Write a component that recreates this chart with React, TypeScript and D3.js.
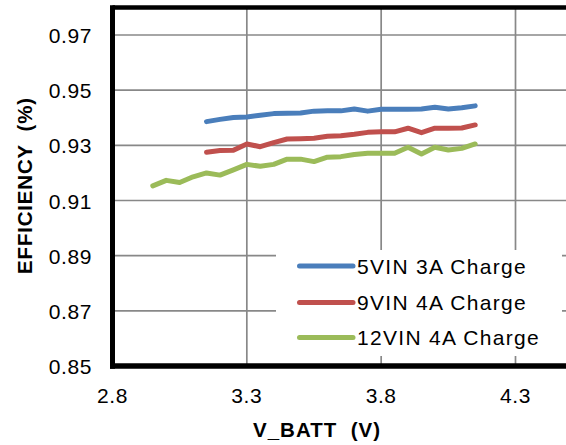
import React from "react";
import * as d3 from "d3";

const xTicks = [2.8, 3.3, 3.8, 4.3];
const yTicks = [0.85, 0.87, 0.89, 0.91, 0.93, 0.95, 0.97];

const vbattShort = [3.15, 3.2, 3.25, 3.3, 3.35, 3.4, 3.45, 3.5, 3.55, 3.6, 3.65, 3.7, 3.75, 3.8, 3.85, 3.9, 3.95, 4.0, 4.05, 4.1, 4.15];
const vbattLong = [2.95, 3.0, 3.05, 3.1, ...vbattShort];

const eff5V = [0.9386, 0.9394, 0.9401, 0.9403, 0.9409, 0.9415, 0.9416, 0.9417, 0.9424, 0.9425, 0.9425, 0.9432, 0.9424, 0.9431, 0.9431, 0.9431, 0.9432, 0.9438, 0.9432, 0.9436, 0.9443];
const eff9V = [0.9275, 0.9281, 0.9282, 0.9305, 0.9295, 0.931, 0.9323, 0.9324, 0.9326, 0.9333, 0.9335, 0.934, 0.9347, 0.9349, 0.9349, 0.9362, 0.9346, 0.9362, 0.9362, 0.9363, 0.9374];
const eff12V = [0.9153, 0.9173, 0.9165, 0.9186, 0.92, 0.9192, 0.9211, 0.9231, 0.9224, 0.9231, 0.925, 0.925, 0.9241, 0.9257, 0.9259, 0.9267, 0.9271, 0.9271, 0.9271, 0.9293, 0.9269, 0.9293, 0.9283, 0.9289, 0.9305];

const seriesNames = ["5VIN 3A Charge", "9VIN 4A Charge", "12VIN 4A Charge"];
const seriesColors = ["#4A7EBB", "#C0504D", "#9BBB59"];

const W = 566;
const H = 445;
const FONT = "'Liberation Sans', Arial, sans-serif";

export default function App() {
  const x = d3.scaleLinear().domain([2.8, 4.3]).range([112.5, 515.5]);
  const y = d3.scaleLinear().domain([0.85, 0.97]).range([366, 35]);
  const yTop = y(0.98);
  const xRight = W + 10;

  const series = [
    { xs: vbattShort, ys: eff5V },
    { xs: vbattShort, ys: eff9V },
    { xs: vbattLong, ys: eff12V },
  ];
  const line = d3
    .line<[number, number]>()
    .x((d) => x(d[0]))
    .y((d) => y(d[1]));

  const legendX = 276;
  const legendY = 250;
  const legendRows = [266, 302.5, 337.5];

  return (
    <svg
      width={W}
      height={H}
      style={{ position: "absolute", left: 0, top: 0, background: "#fff" }}
      fontFamily={FONT}
    >
      <rect x={0} y={0} width={W} height={H} fill="#fff" />
      {yTicks.slice(1).map((t) => (
        <line key={"hy" + t} x1={x(2.8)} x2={xRight} y1={y(t)} y2={y(t)} stroke="#888" strokeWidth={1.7} />
      ))}
      {xTicks.slice(1).map((t) => (
        <line key={"vx" + t} x1={x(t)} x2={x(t)} y1={yTop} y2={y(0.85)} stroke="#888" strokeWidth={1.7} />
      ))}
      <rect x={legendX} y={legendY} width={562 - legendX} height={356 - legendY} fill="#fff" />
      {series.map((s, i) => (
        <path
          key={"s" + i}
          d={line(s.xs.map((v, j) => [v, s.ys[j]] as [number, number])) || ""}
          fill="none"
          stroke={seriesColors[i]}
          strokeWidth={5}
          strokeLinecap="round"
          strokeLinejoin="round"
        />
      ))}
      {seriesNames.map((n, i) => (
        <g key={"l" + i}>
          <line x1={299.5} x2={353} y1={legendRows[i]} y2={legendRows[i]} stroke={seriesColors[i]} strokeWidth={5} strokeLinecap="round" />
          <text x={357} y={legendRows[i] + 7.5} fontSize={21} letterSpacing={1.3} fill="#000">
            {n}
          </text>
        </g>
      ))}
      <line x1={x(2.8)} x2={xRight} y1={yTop} y2={yTop} stroke="#000" strokeWidth={4.5} />
      <line x1={x(2.8)} x2={x(2.8)} y1={yTop - 2.2} y2={y(0.85) + 2.8} stroke="#000" strokeWidth={5} />
      <line x1={x(2.8) - 2.5} x2={xRight} y1={y(0.85)} y2={y(0.85)} stroke="#000" strokeWidth={5.5} />
      {yTicks.map((t) => (
        <text key={"yl" + t} x={92} y={y(t) + 8} textAnchor="end" fontSize={21} letterSpacing={0.6} fill="#000">
          {d3.format(".2f")(t)}
        </text>
      ))}
      {xTicks.map((t) => (
        <text key={"xl" + t} x={x(t)} y={403} textAnchor="middle" fontSize={21} letterSpacing={0.6} fill="#000">
          {d3.format(".1f")(t)}
        </text>
      ))}
      <text x={317} y={437} textAnchor="middle" fontSize={20.5} fontWeight="bold" letterSpacing={1} fill="#000" style={{ whiteSpace: "pre" }}>
        {"V_BATT  (V)"}
      </text>
      <text
        transform={`translate(31.5,185.5) rotate(-90)`}
        textAnchor="middle"
        fontSize={20.5}
        fontWeight="bold"
        letterSpacing={0.8}
        fill="#000"
        style={{ whiteSpace: "pre" }}
      >
        {"EFFICIENCY  (%)"}
      </text>
    </svg>
  );
}
